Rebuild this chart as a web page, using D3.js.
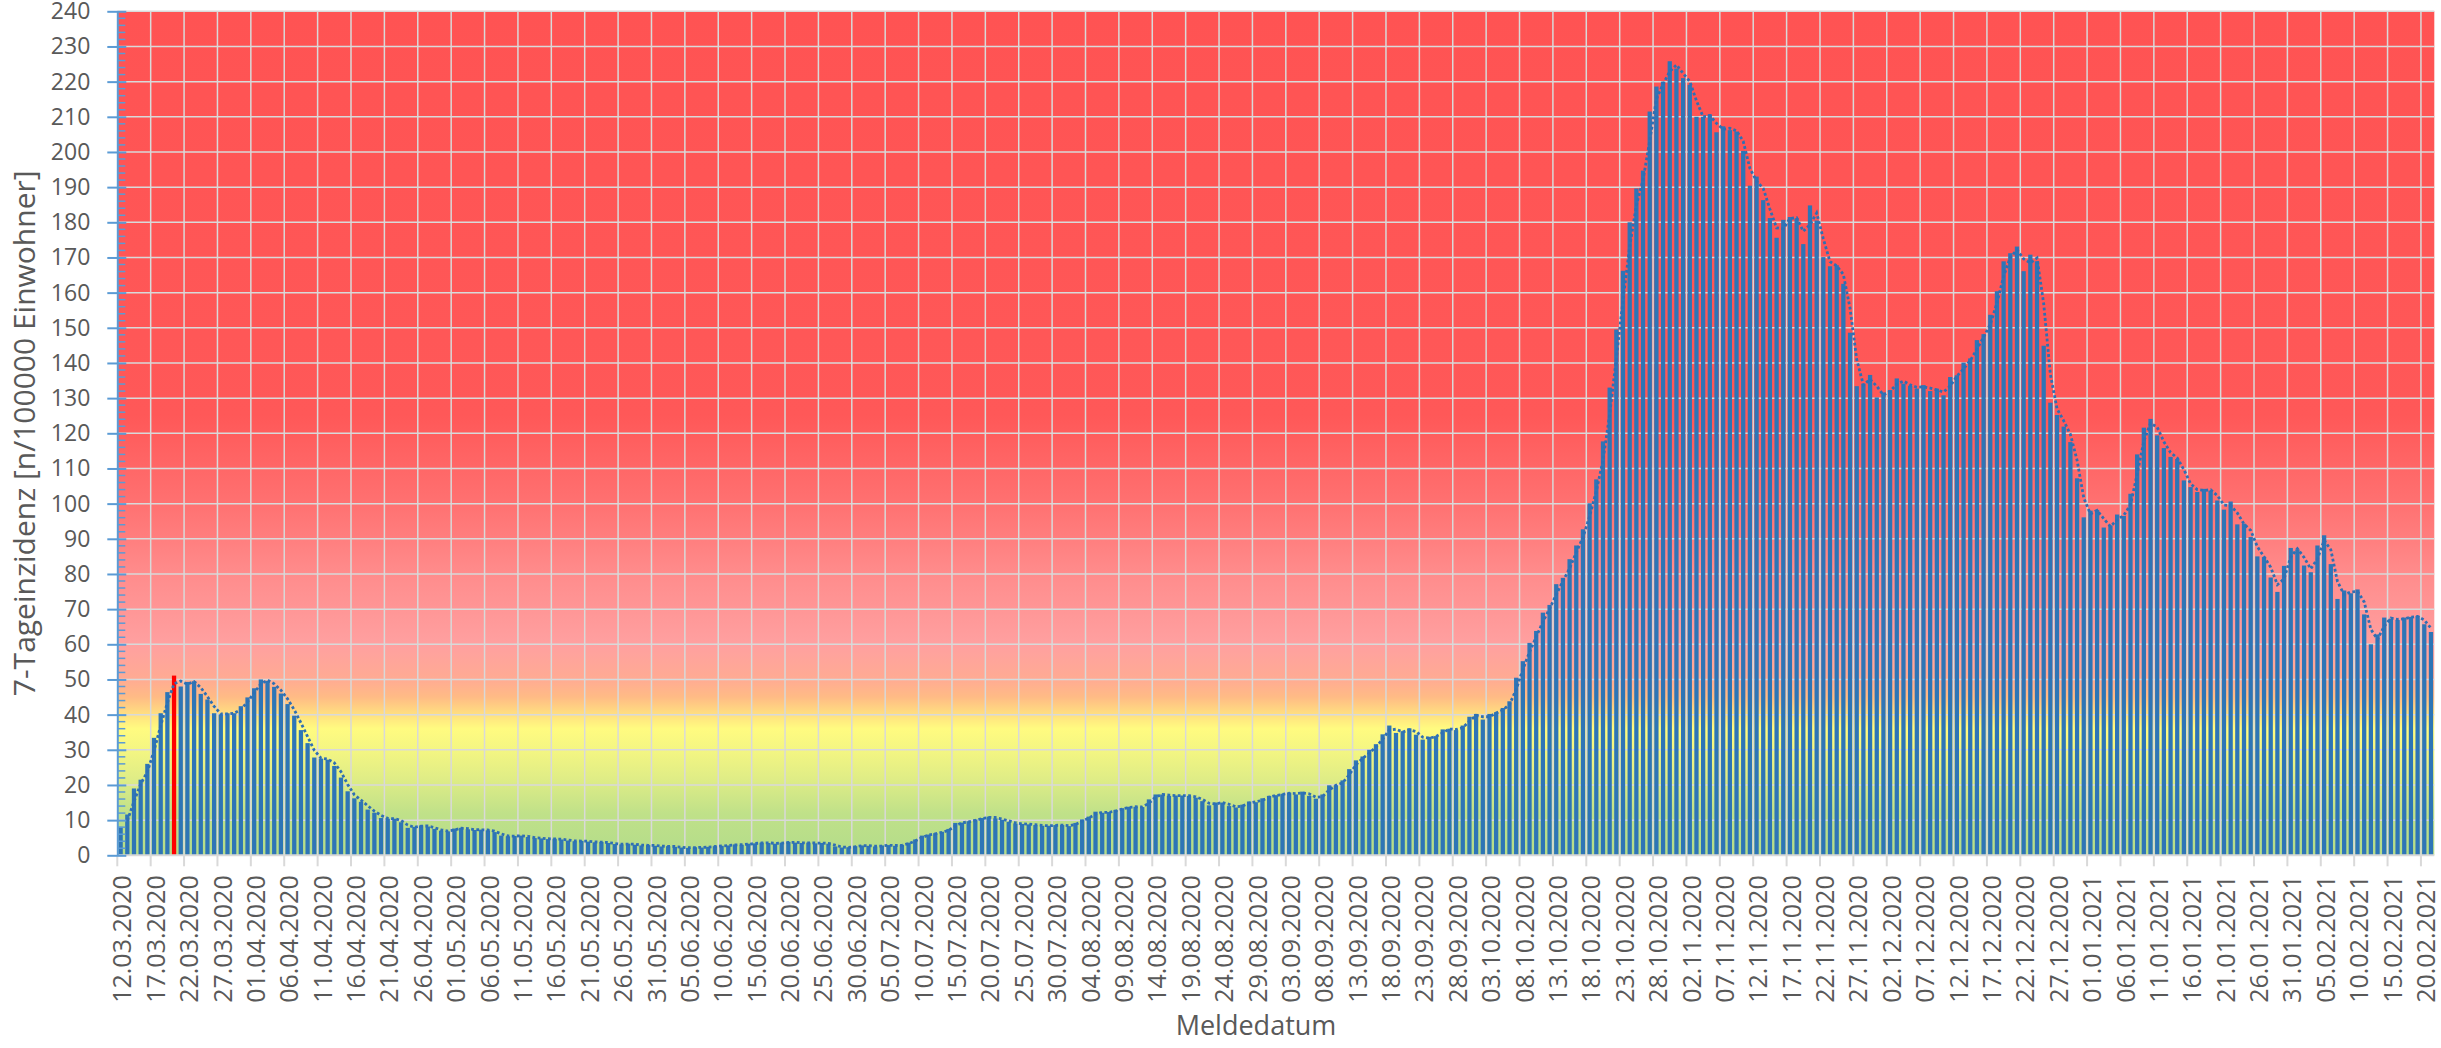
<!DOCTYPE html>
<html>
<head>
<meta charset="utf-8">
<script src="https://cdn.jsdelivr.net/npm/d3@7"></script>
<style>
  body { margin: 0; background: #fff; }
  text { font-family: 'Open Sans', sans-serif; fill: #595959; }
</style>
</head>
<body>
<svg id="chart"></svg>
<script>
// 7-Tage-Inzidenz je Meldedatum (12.03.2020 - 21.02.2021), one array per month
var incMar = [8.1, 11.6, 19.0, 21.5, 26.0, 33.4, 40.4, 46.4, 51.1, 48.0,
              49.3, 49.5, 45.9, 44.3, 40.4, 40.0, 40.4, 40.4, 42.4, 44.9];
var incApr = [47.5, 50.0, 49.6, 47.9, 46.0, 43.0, 39.7, 35.6, 31.9, 27.8,
              27.5, 27.2, 25.4, 22.1, 18.2, 16.2, 15.2, 13.0, 12.1, 10.6,
              10.4, 10.4, 9.4, 7.8, 8.1, 8.5, 8.2, 7.5, 7.0, 6.8];
var incMay = [7.6, 7.8, 7.4, 7.2, 7.3, 7.1, 6.6, 5.6, 5.4, 5.5,
              5.6, 5.2, 4.9, 4.8, 4.6, 4.7, 4.5, 4.2, 4.0, 4.1,
              3.9, 3.7, 3.8, 3.5, 3.2, 3.1, 3.3, 3.0, 2.8, 2.9, 2.7];
var incJun = [2.5, 2.6, 2.4, 2.2, 2.1, 2.3, 2.2, 2.4, 2.6, 2.7,
              2.8, 3.1, 3.0, 3.3, 3.4, 3.6, 3.5, 3.3, 3.6, 3.8,
              3.6, 3.5, 3.6, 3.4, 3.5, 3.3, 2.5, 2.2, 2.3, 2.6];
var incJul = [2.8, 2.7, 2.5, 2.8, 2.9, 2.7, 3.0, 3.6, 4.5, 5.6,
              5.9, 6.3, 6.7, 7.5, 9.2, 9.3, 9.7, 10.2, 10.6, 11.0,
              10.5, 10.1, 9.5, 9.0, 8.9, 8.8, 8.6, 8.4, 8.4, 8.6, 8.6];
var incAug = [8.3, 9.2, 10.2, 11.0, 12.4, 12.1, 12.3, 12.9, 13.4, 13.8,
              13.8, 13.7, 15.9, 17.3, 17.3, 16.9, 17.0, 17.0, 16.9, 16.4,
              15.4, 14.2, 15.0, 15.0, 14.0, 13.6, 14.4, 15.3, 15.1, 16.2, 16.9];
var incSep = [17.1, 17.5, 17.8, 17.3, 18.1, 16.9, 16.1, 17.3, 19.9, 19.9,
              21.3, 24.5, 27.0, 28.1, 30.0, 31.6, 34.4, 36.9, 34.8, 35.3,
              36.1, 34.3, 32.9, 33.7, 33.9, 35.8, 36.0, 35.6, 36.9, 39.4];
var incOct = [40.2, 38.6, 40.2, 40.7, 41.9, 43.8, 50.5, 55.2, 60.4, 63.8,
              69.0, 71.2, 77.1, 78.9, 84.2, 88.1, 92.7, 100.1, 106.9, 117.7,
              133.0, 149.5, 166.2, 180.0, 189.6, 194.7, 211.5, 218.6, 220.0, 225.8, 223.7];
var incNov = [221.0, 219.1, 210.0, 210.0, 210.7, 205.6, 207.3, 206.2, 205.8, 200.3,
              190.4, 193.0, 186.3, 181.2, 175.6, 180.7, 181.5, 181.1, 173.8, 184.8,
              180.5, 170.1, 167.5, 167.8, 162.5, 148.6, 133.4, 134.1, 136.6, 130.2];
var incDec = [131.6, 132.3, 135.6, 134.1, 133.5, 132.7, 133.7, 132.0, 132.7, 130.8,
              136.0, 136.5, 140.1, 141.3, 146.5, 148.2, 153.7, 160.4, 168.9, 171.2,
              173.1, 166.1, 170.8, 168.9, 144.9, 128.7, 125.2, 121.9, 117.5, 107.2, 96.1];
var incJan = [98.0, 98.2, 93.2, 93.8, 96.9, 96.5, 102.8, 114.0, 121.6, 124.1,
              119.4, 115.8, 113.3, 112.7, 106.6, 104.7, 103.3, 104.2, 103.7, 100.9,
              98.3, 100.6, 94.1, 94.3, 90.5, 85.0, 84.8, 79.0, 74.9, 82.3, 87.4];
var incFeb = [87.0, 82.4, 80.5, 88.1, 91.0, 82.8, 72.9, 75.3, 74.5, 75.6,
              68.5, 60.0, 62.8, 67.6, 67.3, 66.9, 67.6, 67.8, 68.1, 65.7, 63.5];

var firstDay = new Date(2020, 2, 12);
var highlightDay = '20.03.2020';
var yTicks = d3.range(0, 241, 10);
var labelEvery = 5;

var incidence = [].concat(incMar, incApr, incMay, incJun, incJul, incAug,
                          incSep, incOct, incNov, incDec, incJan, incFeb);
var fmt = d3.timeFormat('%d.%m.%Y');
var days = d3.timeDay.range(firstDay, d3.timeDay.offset(firstDay, incidence.length)).map(fmt);
var data = days.map((d, i) => ({day: d, value: incidence[i]}));

var width = 2441, height = 1048;
var margin = {top: 11.3, right: 6.7, bottom: 192.7, left: 117.3};
var plotW = width - margin.left - margin.right;
var plotH = height - margin.top - margin.bottom;

var svg = d3.select('#chart')
            .attr('width', width)
            .attr('height', height);

var x = d3.scaleBand()
          .domain(days)
          .range([0, plotW])
          .paddingInner(0.36)
          .paddingOuter(0.18);

var y = d3.scaleLinear()
          .domain([0, 240])
          .range([plotH, 0]);

// left edge of a category slot (Excel ticks sit between categories)
var slot = d => x(d) - x.step() * 0.18;

// background gradient red -> yellow -> green
var stops = [[240, '#ff5353'], [125, '#ff5858'], [100, '#ff7171'], [80, '#ff8c8c'],
             [60, '#ffa0a0'], [50, '#ffab93'], [45, '#ffbb85'], [40, '#ffe080'],
             [36, '#fffb80'], [30, '#f4f682'], [22, '#e0ed86'], [12, '#c0e189'], [0, '#b3dc8a']];

var grad = svg.append('defs').append('linearGradient')
              .attr('id', 'bg')
              .attr('gradientUnits', 'userSpaceOnUse')
              .attr('x1', 0).attr('x2', 0)
              .attr('y1', y(240)).attr('y2', y(0));

grad.selectAll('stop')
    .data(stops)
    .enter().append('stop')
      .attr('offset', d => 1 - d[0] / 240)
      .attr('stop-color', d => d[1]);

var g = svg.append('g')
           .attr('transform', 'translate(' + margin.left + ',' + margin.top + ')');

g.append('rect')
    .attr('width', plotW)
    .attr('height', plotH)
    .attr('fill', 'url(#bg)');

// grid
var tickDays = days.filter((d, i) => i % labelEvery === 0);

g.append('g')
  .selectAll('line')
  .data(yTicks.filter(v => v > 0))
  .enter().append('line')
    .attr('x1', 0).attr('x2', plotW)
    .attr('y1', d => y(d)).attr('y2', d => y(d))
    .attr('stroke', '#d9d9d9')
    .attr('stroke-width', 1.5);

g.append('g')
  .selectAll('line')
  .data(tickDays.slice(1))
  .enter().append('line')
    .attr('x1', d => slot(d)).attr('x2', d => slot(d))
    .attr('y1', 0).attr('y2', plotH)
    .attr('stroke', '#d9d9d9')
    .attr('stroke-width', 1.5);

// bars
g.append('g')
  .selectAll('rect')
  .data(data)
  .enter().append('rect')
    .attr('x', d => x(d.day))
    .attr('width', x.bandwidth())
    .attr('y', d => y(d.value))
    .attr('height', d => plotH - y(d.value))
    .attr('fill', d => d.day === highlightDay ? '#ff0000' : '#2e75b6');

// trendline: moving average over 2 days, like the Excel one
var trend = d3.pairs(data).map(p => ({day: p[1].day, value: (p[0].value + p[1].value) / 2}));

var line = d3.line()
             .x(d => x(d.day) + x.bandwidth() / 2)
             .y(d => y(d.value));

g.append('path')
    .datum(trend)
    .attr('d', line)
    .attr('fill', 'none')
    .attr('stroke', '#2e6fb4')
    .attr('stroke-width', 2.8)
    .attr('stroke-dasharray', '2.8 2.4');

// x axis
g.append('line')
    .attr('x1', 0).attr('x2', plotW)
    .attr('y1', plotH).attr('y2', plotH)
    .attr('stroke', '#d9d9d9')
    .attr('stroke-width', 2);

g.append('g')
  .selectAll('line')
  .data(tickDays)
  .enter().append('line')
    .attr('x1', d => slot(d)).attr('x2', d => slot(d))
    .attr('y1', plotH).attr('y2', plotH + 11)
    .attr('stroke', '#d9d9d9')
    .attr('stroke-width', 2);

var gx = g.append('g')
          .attr('transform', 'translate(0,' + plotH + ')')
          .call(d3.axisBottom(x).tickValues(tickDays).tickSize(0))
          .attr('font-size', 25);

gx.select('.domain').remove();
gx.selectAll('.tick text')
    .attr('transform', 'rotate(-90)')
    .attr('x', -20)
    .attr('y', 2)
    .attr('dy', '0.35em')
    .style('text-anchor', 'end');

// y axis
var gy = g.append('g')
          .call(d3.axisLeft(y).tickValues(yTicks).tickSizeInner(10).tickSizeOuter(0).tickPadding(17))
          .attr('font-size', 23);

gy.select('.domain').attr('stroke', '#5b9bd5').attr('stroke-width', 2);
gy.selectAll('.tick line')
    .attr('x1', 9)
    .attr('stroke', '#5b9bd5')
    .attr('stroke-width', 2);

g.append('g')
  .selectAll('line')
  .data(d3.range(0, 241, 2).filter(v => v % 10 !== 0))
  .enter().append('line')
    .attr('x1', 0).attr('x2', 8)
    .attr('y1', d => y(d)).attr('y2', d => y(d))
    .attr('stroke', '#5b9bd5')
    .attr('stroke-width', 1.5);

// titles
svg.append('text')
    .attr('transform', 'translate(24,' + (margin.top + plotH / 2) + ') rotate(-90)')
    .attr('font-size', 30)
    .attr('dy', '0.35em')
    .style('text-anchor', 'middle')
    .text('7-Tageinzidenz [n/100000 Einwohner]');

svg.append('text')
    .attr('x', 1256)
    .attr('y', 1026)
    .attr('font-size', 27)
    .attr('dy', '0.35em')
    .style('text-anchor', 'middle')
    .text('Meldedatum');
</script>
</body>
</html>
